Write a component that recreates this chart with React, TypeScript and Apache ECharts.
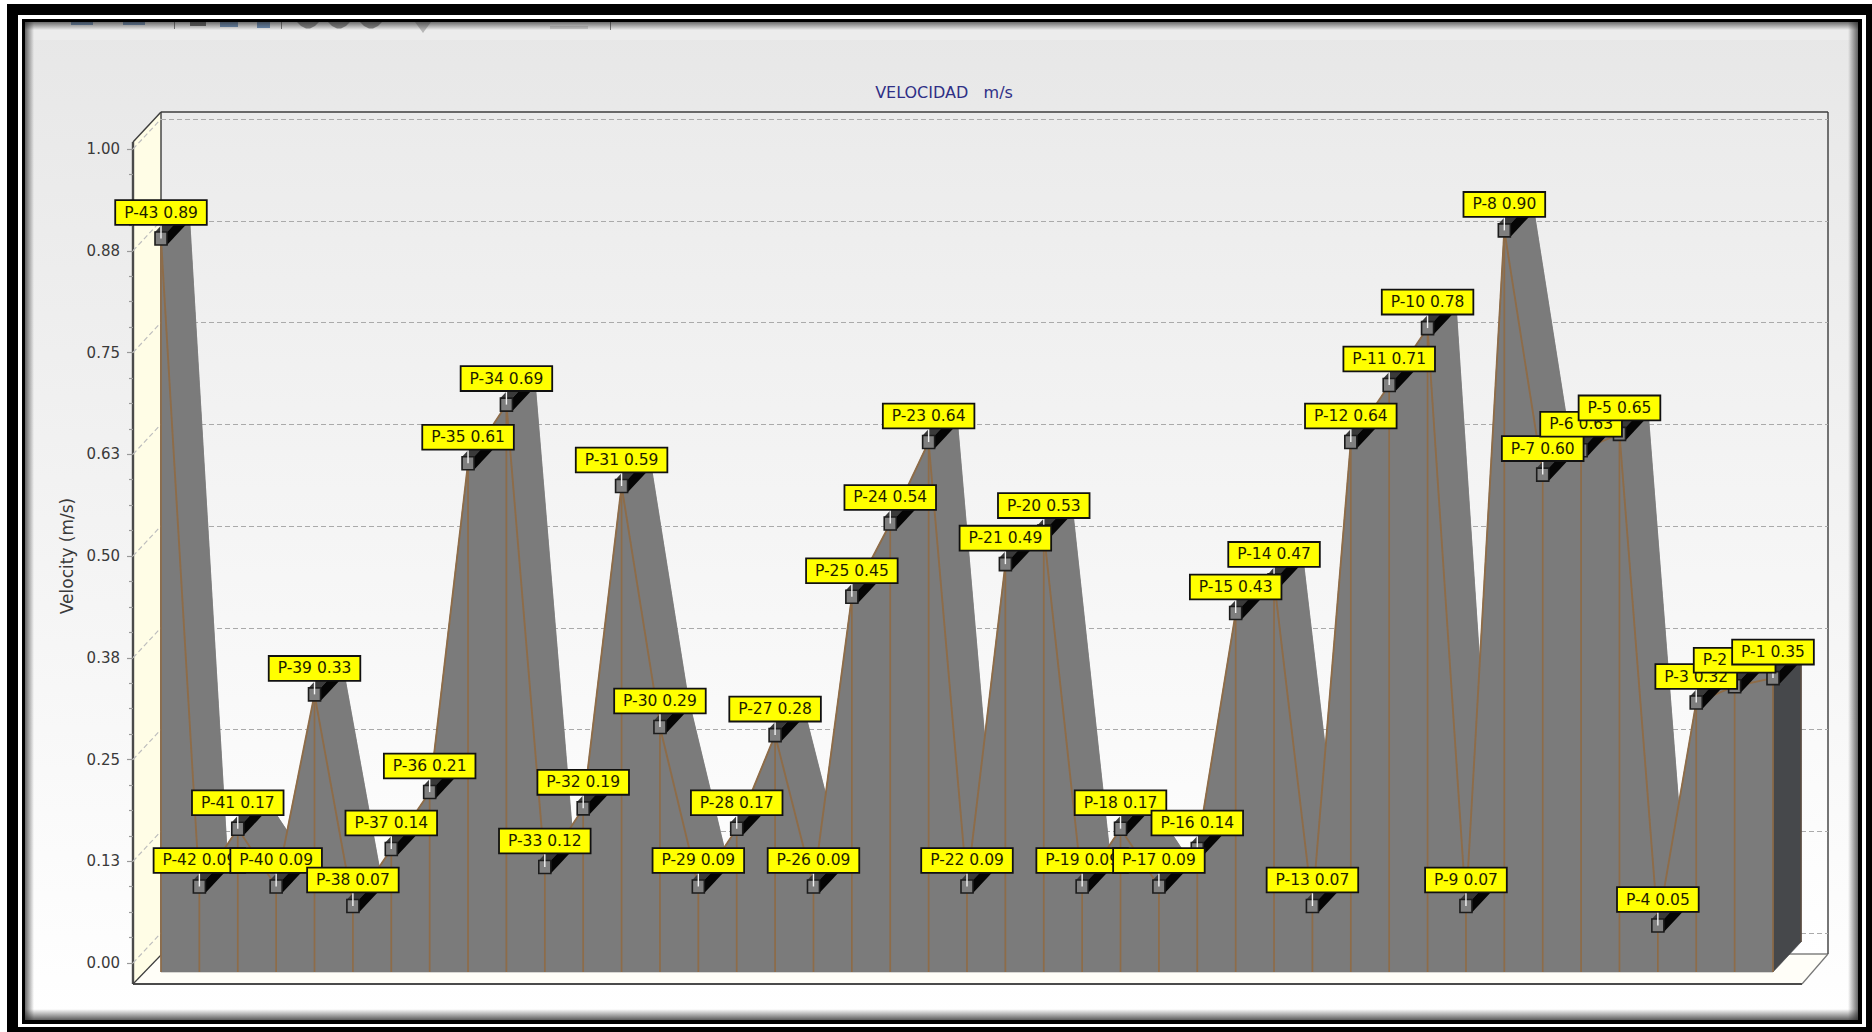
import React, { useEffect, useRef } from "react";
import * as echarts from "echarts";

const pointNames = ["P-43","P-42","P-41","P-40","P-39","P-38","P-37","P-36","P-35","P-34","P-33","P-32","P-31","P-30","P-29","P-28","P-27","P-26","P-25","P-24","P-23","P-22","P-21","P-20","P-19","P-18","P-17","P-16","P-15","P-14","P-13","P-12","P-11","P-10","P-9","P-8","P-7","P-6","P-5","P-4","P-3","P-2","P-1"];
const velocities = [0.89,0.094,0.165,0.094,0.33,0.07,0.14,0.21,0.614,0.686,0.118,0.19,0.586,0.29,0.094,0.165,0.28,0.094,0.45,0.54,0.64,0.094,0.49,0.53,0.094,0.165,0.094,0.14,0.43,0.47,0.07,0.64,0.71,0.78,0.07,0.9,0.6,0.63,0.65,0.046,0.32,0.34,0.35];
const yTicks = [0,0.125,0.25,0.375,0.5,0.625,0.75,0.875,1];
const chartTitle = "VELOCIDAD   m/s";
const yAxisTitle = "Velocity (m/s)";

const FONT = "DejaVu Sans";
const DX = 28;
const DY = -30;
const BASE_DROP = 9;
const GRAY = "#7b7b7b";
const BROWN = "#8e6c48";

function poly(points: number[][], fill: string, stroke?: string) {
  return {
    type: "polygon",
    shape: { points },
    style: { fill, stroke: stroke || fill, lineWidth: 0.6 },
  };
}
function rect(x: number, y: number, w: number, h: number, fill: any, z = -10) {
  return { type: "rect", z, shape: { x, y, width: w, height: h }, style: { fill } };
}
function line(x1: number, y1: number, x2: number, y2: number, stroke: string, lineWidth = 1, z = -4) {
  return { type: "line", z, shape: { x1, y1, x2, y2 }, style: { stroke, lineWidth } };
}
function grad(x2: number, y2: number, c0: string, c1: string) {
  return new echarts.graphic.LinearGradient(0, 0, x2, y2, [
    { offset: 0, color: c0 },
    { offset: 1, color: c1 },
  ]);
}
function chrome() {
  const toolbarBlue = "#6f90b8";
  const disc = (x: number) => ({
    type: "polygon",
    z: -7,
    shape: { points: [[x, 22], [x + 22, 22], [x + 18, 26], [x + 13, 28.5], [x + 9, 28.5], [x + 4, 26]] },
    style: { fill: "#8a8a8a" },
  });
  return [
    rect(0, 0, 1872, 1032, "#ffffff", -20),
    rect(7, 4, 1865, 1028, "#000000", -19),
    rect(18, 15, 1848, 1012, "#ffffff", -18),
    rect(22, 19, 1840, 1005, "#000000", -17),
    rect(25, 22, 1833, 998, grad(0, 1, "#e7e7e7", "#ffffff"), -16),
    rect(25, 22, 1833, 18, "#ececec", -15),
    rect(71, 22, 22, 3, toolbarBlue, -7),
    rect(123, 22, 22, 3, toolbarBlue, -7),
    rect(220, 22, 18, 5, toolbarBlue, -7),
    rect(257, 22, 13, 6, toolbarBlue, -7),
    rect(190, 22, 16, 4, "#666666", -7),
    rect(174, 22, 1, 7, "#777777", -7),
    rect(281, 22, 1, 7, "#777777", -7),
    rect(610, 22, 1, 8, "#777777", -7),
    rect(550, 26, 38, 3, "#cccccc", -7),
    disc(297), disc(328), disc(360),
    { type: "polygon", z: -7, shape: { points: [[415, 22], [431, 22], [423, 33]] }, style: { fill: "#b5b5b5" } },
    rect(25, 22, 1833, 8, grad(0, 1, "rgba(40,40,40,0.65)", "rgba(40,40,40,0)"), -6),
    rect(25, 1009, 1833, 11, grad(0, 1, "rgba(40,40,40,0)", "rgba(40,40,40,0.75)"), -6),
    rect(25, 22, 9, 998, grad(1, 0, "rgba(40,40,40,0.7)", "rgba(40,40,40,0)"), -6),
    rect(1848, 22, 10, 998, grad(1, 0, "rgba(40,40,40,0)", "rgba(40,40,40,0.7)"), -6),
    rect(161, 112, 1667, 843, grad(0, 1, "#ebebeb", "#ffffff"), -5),
    { type: "polygon", z: -5, shape: { points: [[133, 142], [161, 112], [161, 955], [133, 984]] }, style: { fill: "#fffde6" } },
    { type: "polygon", z: -5, shape: { points: [[133, 984], [161, 955], [1828, 954], [1802, 985]] }, style: { fill: "#fffef8" } },
    line(161, 112, 1828, 112, "#3c3c3c", 1.6),
    line(1828, 112, 1828, 954, "#3c3c3c", 1.4),
    line(161, 112, 161, 955, "#3c3c3c", 1.4),
    line(133, 142, 161, 112, "#3c3c3c", 1.4),
    line(133, 142, 133, 984, "#4a4a4a", 2.4),
    line(133, 984, 1802, 984, "#4a4a4a", 2.2),
    line(133, 984, 161, 955, "#3c3c3c", 1.2),
    line(161, 954, 1828, 954, "#444444", 1.2),
    line(1802, 984, 1828, 954, "#777777", 1.2),
  ];
}

function renderBody(p: any, api: any) {
  const i = p.dataIndex;
  const a = api.coord([i, velocities[i]]);
  const zero = api.coord([i, 0])[1] + BASE_DROP;
  if (i === velocities.length - 1) {
    return poly(
      [[a[0], a[1]], [a[0] + DX, a[1] + DY], [a[0] + DX, zero + DY], [a[0], zero]],
      "#46484b",
    );
  }
  const b = api.coord([i + 1, velocities[i + 1]]);
  const off = (q: number[]) => [q[0] + DX, q[1] + DY];
  const a0 = [a[0], zero];
  const b0 = [b[0], zero];
  return {
    type: "group",
    children: [
      poly([off(a), off(b), off(b0), off(a0)], GRAY),
      poly([a, b, off(b), off(a)], GRAY),
      poly([a, b, b0, a0], GRAY),
    ],
  };
}

function renderBrown(p: any, api: any) {
  const i = p.dataIndex;
  const a = api.coord([i, velocities[i]]);
  const zero = api.coord([i, 0])[1] + BASE_DROP;
  const children: any[] = [
    { type: "line", shape: { x1: a[0], y1: a[1], x2: a[0], y2: zero }, style: { stroke: BROWN, lineWidth: 1.7 } },
  ];
  if (i < velocities.length - 1) {
    const b = api.coord([i + 1, velocities[i + 1]]);
    children.push({ type: "line", shape: { x1: a[0], y1: a[1], x2: b[0], y2: b[1] }, style: { stroke: BROWN, lineWidth: 1.9 } });
  } else {
    children.push({ type: "line", shape: { x1: a[0] + DX, y1: a[1] + DY, x2: a[0] + DX, y2: zero + DY }, style: { stroke: "#5c4c40", lineWidth: 1.5 } });
  }
  return { type: "group", children };
}

function renderMarker(p: any, api: any) {
  const i = p.dataIndex;
  const [x, y] = api.coord([i, velocities[i]]);
  const w = 6;
  const h = 6.5;
  return {
    type: "group",
    children: [
      { type: "polygon", shape: { points: [[x - w, y - h], [x + w, y - h], [x + w + DX, y - h + DY], [x - w + DX, y - h + DY]] }, style: { fill: "#3a3a3a" } },
      { type: "polygon", shape: { points: [[x + w, y - h], [x + w, y + h], [x + w + DX, y + h + DY], [x + w + DX, y - h + DY]] }, style: { fill: "#050505" } },
      { type: "rect", shape: { x: x - w, y: y - h, width: 2 * w, height: 2 * h }, style: { fill: "#7f7f7f", stroke: "#1c1c1c", lineWidth: 1.6 } },
      { type: "line", shape: { x1: x, y1: y, x2: x, y2: y - 15 }, style: { stroke: "#f4f4f4", lineWidth: 1.4 } },
    ],
  };
}

function renderSideGrid(p: any, api: any) {
  const v = yTicks[p.dataIndex];
  const [x, y] = api.coord([0, v]);
  return {
    type: "line",
    shape: { x1: x - DX, y1: y, x2: x, y2: y + DY },
    style: { stroke: "#bdbdbd", lineWidth: 1.2, lineDash: [5, 3] },
  };
}

export default function App() {
  const ref = useRef<HTMLDivElement>(null);
  useEffect(() => {
    if (!ref.current) return;
    const chart = echarts.init(ref.current, undefined, { renderer: "svg" });
    const rows = velocities.map((v, i) => [i, v]);
    const customBase = { type: "custom", coordinateSystem: "cartesian2d", xAxisIndex: 0, yAxisIndex: 0, silent: true };
    chart.setOption({
      animation: false,
      backgroundColor: "transparent",
      title: {
        text: chartTitle,
        left: 939,
        top: 79,
        textAlign: "center",
        textStyle: { color: "#2f2f86", fontFamily: FONT, fontSize: 16, fontWeight: "normal" },
      },
      graphic: { elements: chrome() },
      grid: [
        { left: 161, top: 149, width: 1612, height: 814 },
        { left: 161, top: 119, width: 1667, height: 814 },
      ],
      xAxis: [
        { type: "category", gridIndex: 0, data: pointNames, boundaryGap: false, show: false },
        { type: "category", gridIndex: 1, data: pointNames, boundaryGap: false, show: false },
      ],
      yAxis: [
        {
          type: "value",
          gridIndex: 0,
          min: 0,
          max: 1,
          interval: 0.125,
          offset: 28,
          name: yAxisTitle,
          nameLocation: "middle",
          nameGap: 56,
          nameTextStyle: { color: "#3a3a3a", fontFamily: FONT, fontSize: 17 },
          axisLine: { show: true, lineStyle: { color: "#4a4a4a", width: 2 } },
          axisTick: { show: true, length: 6, lineStyle: { color: "#999999", width: 1.2 } },
          minorTick: { show: true, splitNumber: 4, length: 4, lineStyle: { color: "#999999", width: 1.2 } },
          axisLabel: {
            color: "#3a3a3a",
            fontFamily: FONT,
            fontSize: 15,
            margin: 13,
            formatter: (v: number) => v.toFixed(2),
          },
          splitLine: { show: false },
        },
        {
          type: "value",
          gridIndex: 1,
          min: 0,
          max: 1,
          interval: 0.125,
          axisLine: { show: false },
          axisTick: { show: false },
          axisLabel: { show: false },
          splitLine: { show: true, lineStyle: { color: "#aaaaaa", width: 1.2, type: [5, 3] } },
        },
      ],
      series: [
        { ...customBase, z: 1, data: yTicks.map((v) => [0, v]), renderItem: renderSideGrid },
        { ...customBase, z: 3, data: rows, renderItem: renderBody },
        { ...customBase, z: 4, data: rows, renderItem: renderBrown },
        { ...customBase, z: 5, data: rows, renderItem: renderMarker },
        {
          type: "scatter",
          xAxisIndex: 0,
          yAxisIndex: 0,
          z: 6,
          silent: true,
          symbolSize: 1,
          itemStyle: { color: "rgba(0,0,0,0)" },
          data: rows,
          label: {
            show: true,
            opacity: 1,
            position: "top",
            distance: 14,
            formatter: (p: any) => `${pointNames[p.dataIndex]} ${p.value[1].toFixed(2)}`,
            color: "#1c1c00",
            fontFamily: FONT,
            fontSize: 15.5,
            lineHeight: 17,
            backgroundColor: "#ffff00",
            borderColor: "#111111",
            borderWidth: 1.8,
            padding: [3, 8, 3, 8],
          },
        },
      ],
    });
    return () => chart.dispose();
  }, []);
  return (
    <div
      ref={ref}
      style={{ position: "fixed", left: 0, top: 0, width: 1872, height: 1032, background: "#fff" }}
    />
  );
}
